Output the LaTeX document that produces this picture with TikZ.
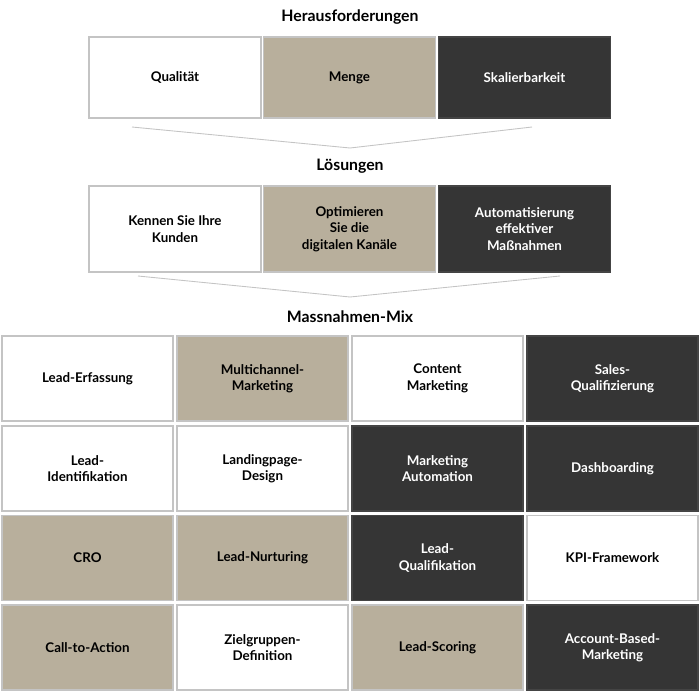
\documentclass[tikz,border=0pt]{standalone}
\usepackage{fontspec}
\setmainfont{Lato}
\usetikzlibrary{positioning}
\definecolor{sand}{HTML}{B8AF9C}
\definecolor{anthrazit}{HTML}{353535}
\definecolor{rahmen}{HTML}{C4C4C4}
\tikzset{
  feld/.style={draw=rahmen, line width=0.6pt, align=center, font=\bfseries\fontsize{7.6}{9.4}\selectfont, inner sep=2pt},
  hell/.style={feld, fill=white, text=black},
  beige/.style={feld, fill=sand, text=black},
  dunkel/.style={feld, fill=anthrazit, draw=anthrazit!80!gray, text=white},
  titel/.style={font=\bfseries\fontsize{9}{11}\selectfont},
  trichter/.style={draw=rahmen, line width=0.5pt}
}
\begin{document}
\begin{tikzpicture}[x=0.02cm,y=-0.02cm]
            \useasboundingbox (0,0) rectangle (700,700);
            % Titel
            \node[titel] (t1) at (350,17) {Herausforderungen};
            \node[titel] (t2) at (350,166) {Lösungen};
            \node[titel] (t3) at (350,317) {Massnahmen-Mix};

            % Herausforderungen
            \begin{scope}[every node/.append style={minimum width=3.44cm, minimum height=1.62cm}]
            \node[hell] (h1) at (175,77.5) {Qualität};
            \node[beige] (h2) at (349.5,77.5) {Menge};
            \node[dunkel] (h3) at (524.5,77.5) {Skalierbarkeit};
            \end{scope}

            % Trichter
            \coordinate (f1) at (132,127);
            \coordinate (f2) at (350,148);
            \coordinate (f3) at (532,127);
            \draw[trichter] (f1) -- (f2) -- (f3);

            % Lösungen
            \begin{scope}[every node/.append style={minimum width=3.44cm, minimum height=1.72cm}]
            \node[hell] (l1) at (175,229) {Kennen Sie Ihre\\Kunden};
            \node[beige] (l2) at (349.5,229) {Optimieren\\Sie die\\digitalen Kanäle};
            \node[dunkel] (l3) at (524.5,229) {Automatisierung\\effektiver\\Maßnahmen};
            \end{scope}

            \coordinate (g1) at (138,276);
            \coordinate (g2) at (350,297);
            \coordinate (g3) at (560,276);
            \draw[trichter] (g1) -- (g2) -- (g3);

            % Massnahmen-Mix
            \begin{scope}[every node/.append style={minimum width=3.42cm, minimum height=1.70cm}]
            \node[hell] (m11) at (87.5,378.5) {Lead-Erfassung};
            \node[beige] (m12) at (262.5,378.5) {Multichannel-\\Marketing};
            \node[hell] (m13) at (437.5,378.5) {Content\\Marketing};
            \node[dunkel] (m14) at (612.5,378.5) {Sales-\\Qualifizierung};

            \node[hell] (m21) at (87.5,468.5) {Lead-\\Identifikation};
            \node[hell] (m22) at (262.5,468.5) {Landingpage-\\Design};
            \node[dunkel] (m23) at (437.5,468.5) {Marketing\\Automation};
            \node[dunkel] (m24) at (612.5,468.5) {Dashboarding};

            \node[beige] (m31) at (87.5,558) {CRO};
            \node[beige] (m32) at (262.5,558) {Lead-Nurturing};
            \node[dunkel] (m33) at (437.5,558) {Lead-\\Qualifikation};
            \node[hell] (m34) at (612.5,558) {KPI-Framework};

            \node[beige] (m41) at (87.5,647.5) {Call-to-Action};
            \node[hell] (m42) at (262.5,647.5) {Zielgruppen-\\Definition};
            \node[beige] (m43) at (437.5,647.5) {Lead-Scoring};
            \node[dunkel] (m44) at (612.5,647.5) {Account-Based-\\Marketing};
            \end{scope}
        \end{tikzpicture}
\end{document}
